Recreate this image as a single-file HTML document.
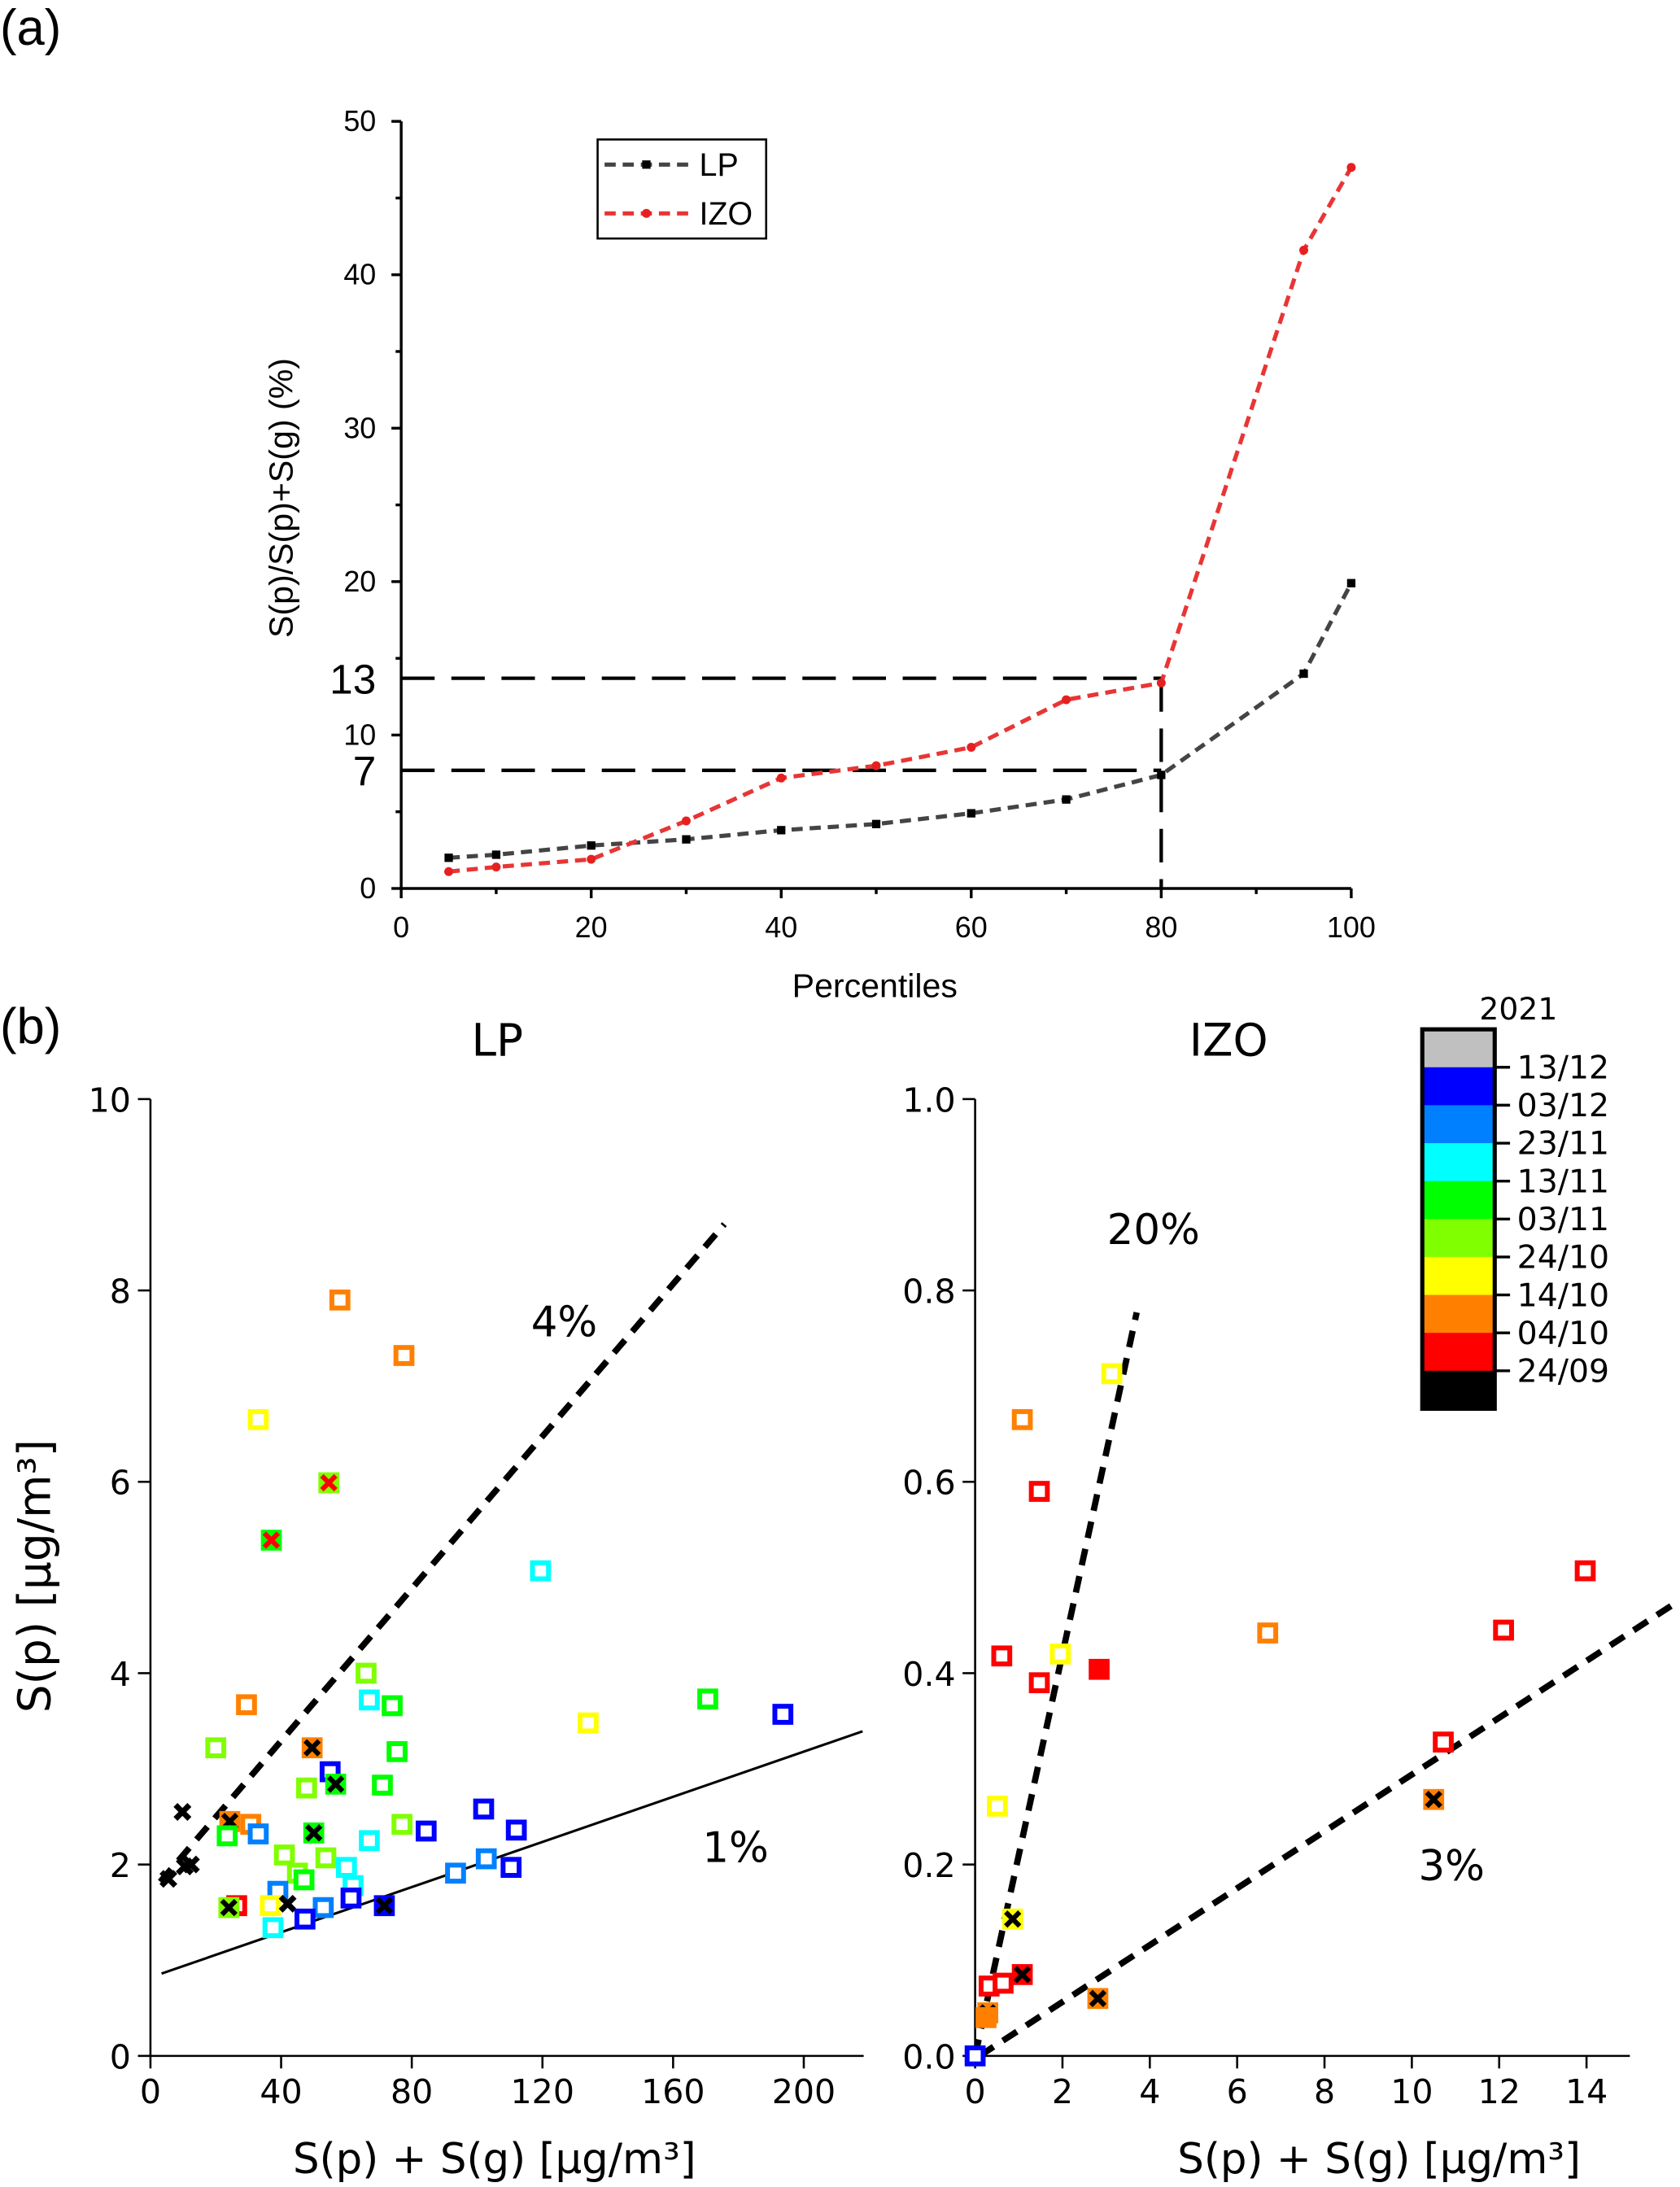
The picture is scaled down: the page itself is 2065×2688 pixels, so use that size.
<!DOCTYPE html>
<html><head><meta charset="utf-8"><style>
html,body{margin:0;padding:0;background:#fff}
svg{display:block}
text{font-family:"Liberation Sans","DejaVu Sans",sans-serif;fill:#000}
.dj{font-family:"DejaVu Sans","Liberation Sans",sans-serif}
</style></head><body>
<svg id="fig" width="2065" height="2688" viewBox="0 0 1206 1568" preserveAspectRatio="none" xmlns="http://www.w3.org/2000/svg"></svg>
<script>
// ---- Panel (a) data ----
const pctCategories = [5,10,20,30,40,50,60,70,80,95,100];
const lpPct = [2.0,2.2,2.8,3.2,3.8,4.2,4.9,5.8,7.4,14.0,19.9];
const izoPct = [1.1,1.4,1.9,4.4,7.2,8.0,9.2,12.3,13.4,41.6,47.0];
const aYTicks = [0,10,20,30,40,50];
const aXTicks = [0,20,40,60,80,100];
const refValues = [13.7,7.7];
const refLabels = ['13','7'];
// ---- Panel (b) LP data ----
const lpX = [58,77.6,33,54.6,37,119.4,66,67,74,170.6,193.6,134,29.4,20,49.5,75.5,55,56.7,47.8,71,9.8,24.3,30.7,23.5,33,77,84.4,102,112,50,67,41,53.7,60,102.8,110.4,93.4,45,47,12.4,10.5,5.5,62,39,61.4,26.4,24,36.7,42,52.9,71.6,37.5,47.3];
const lpY = [7.9,7.32,6.65,5.99,5.39,5.07,4.0,3.72,3.66,3.73,3.57,3.48,3.67,3.22,3.22,3.18,2.97,2.84,2.80,2.83,2.55,2.45,2.42,2.3,2.32,2.42,2.35,2.58,2.36,2.33,2.25,2.1,2.07,1.97,2.06,1.97,1.91,1.91,1.84,2.0,1.98,1.85,1.78,1.72,1.65,1.57,1.55,1.57,1.59,1.55,1.57,1.34,1.43];
const lpColor = ['o','o','y','l','g','c','l','c','g','g','b','y','o','l','o','g','b','g','l','g','k','o','o','g','s','l','b','b','b','g','c','l','l','c','s','b','s','l','g','k','k','k','c','s','b','r','l','y','k','s','b','c','b'];
const lpMark = ['o','o','o','r','r','o','o','o','o','o','o','o','o','o','x','o','o','x','o','o','k','x','o','o','o','o','o','o','o','x','o','o','o','o','o','o','o','o','o','k','k','k','o','o','o','o','x','o','k','o','x','o','o'];
const lpXTicks = [0,40,80,120,160,200];
const lpYTicks = [0,2,4,6,8,10];
// ---- Panel (b) IZO data ----
const izX = [3.13,1.08,1.47,0.61,1.95,1.47,2.84,6.7,12.1,13.97,10.72,10.5,0.51,0.86,1.08,0.32,0.64,2.81,0.29,0.25,0.0];
const izY = [0.713,0.665,0.590,0.418,0.42,0.39,0.404,0.442,0.445,0.507,0.328,0.268,0.261,0.143,0.085,0.073,0.076,0.06,0.045,0.04,0.0];
const izColor = ['y','o','r','r','y','r','r','o','r','r','r','o','y','y','r','r','r','o','o','o','b'];
const izMark = ['o','o','o','o','o','o','f','o','o','o','o','x','o','x','x','o','o','x','x','f','o'];
const izXTicks = [0,2,4,6,8,10,12,14];
const izYTicks = [0,0.2,0.4,0.6,0.8,1.0];
const cbLabels = ['13/12','03/12','23/11','13/11','03/11','24/10','14/10','04/10','24/09'];
const cbColors = ['#c0c0c0','#0000ff','#0080ff','#00ffff','#00ff00','#80ff00','#ffff00','#ff8000','#ff0000','#000000'];

const PAL = {k:'#000000',r:'#ff0000',o:'#ff8000',y:'#ffff00',l:'#80ff00',g:'#00ff00',c:'#00ffff',s:'#0080ff',b:'#0000ff'};
const svg = document.getElementById('fig');
const NS = 'http://www.w3.org/2000/svg';
function el(tag, attrs, parent, txt){
  const e = document.createElementNS(NS, tag);
  for (const k in attrs) e.setAttribute(k, attrs[k]);
  if (txt !== undefined) e.textContent = txt;
  (parent||svg).appendChild(e);
  return e;
}
function txt(x,y,s,size,anchor,parent,cls){
  const t = el('text',{x:x,y:y,'font-size':size,'text-anchor':anchor||'middle'},parent,s);
  if(cls) t.setAttribute('class',cls);
  return t;
}

// ======== Panel (a) ========
const ax = v => 288 + v*(970-288)/100;
const ay = v => 637 - v*11;
const gA = el('g',{});


let t = txt(0,32,'(a)',36,'start',gA);
 
el('line',{x1:288,y1:87,x2:288,y2:637,stroke:'#000','stroke-width':2},gA);
el('line',{x1:288,y1:637,x2:970,y2:637,stroke:'#000','stroke-width':2},gA);
for(let v=0; v<=50; v+=5){
  const maj = v%10===0;
  el('line',{x1:288-(maj?7:4),y1:ay(v),x2:288,y2:ay(v),stroke:'#000','stroke-width':2},gA);
}
aYTicks.forEach(v=>{ const e=txt(270,ay(v)+7,String(v),21,'end',gA);  });
for(let v=0; v<=100; v+=10){
  const maj = v%20===0;
  el('line',{x1:ax(v),y1:637,x2:ax(v),y2:637+(maj?7:4),stroke:'#000','stroke-width':2},gA);
}
aXTicks.forEach(v=>{ const e=txt(ax(v),672,String(v),21,'middle',gA);  });
t = txt(628,715,'Percentiles',24,'middle',gA);  
t = el('text',{x:0,y:0,'font-size':24,'text-anchor':'middle',transform:'translate(210,357) rotate(-90)'},gA,'S(p)/S(p)+S(g) (%)');
 
// reference dashed lines
refValues.forEach((v,i)=>{
  const l = el('line',{x1:288,y1:ay(v),x2:ax(80),y2:ay(v),stroke:'#000','stroke-width':2.5,'stroke-dasharray':'24,12'},gA);
  
  const e = txt(270,ay(v)+11,refLabels[i],30,'end',gA);
   
});
el('line',{x1:ax(80),y1:ay(refValues[0]),x2:ax(80),y2:637,stroke:'#000','stroke-width':2.5,'stroke-dasharray':'24,12'},gA);
function series(vals,color,name,marker){
  const pts = pctCategories.map((c,i)=>ax(c)+','+ay(vals[i])).join(' ');
  const pl = el('polyline',{points:pts,fill:'none',stroke:color,'stroke-width':3,'stroke-dasharray':'8,5'},gA);
  
  
  pctCategories.forEach((c,i)=>{
    let m;
    if(marker==='sq') m = el('rect',{x:ax(c)-3,y:ay(vals[i])-3,width:6,height:6,fill:'#000'},gA);
    else m = el('circle',{cx:ax(c),cy:ay(vals[i]),r:3.2,fill:'#e62020'},gA);
    
    
  });
}
series(lpPct,'#444444','lp','sq');
series(izoPct,'#e83535','izo','ci');
// legend
const lg = el('g',{},gA);
 
el('rect',{x:429,y:100,width:121,height:71,fill:'#fff',stroke:'#000','stroke-width':1.5},lg);
el('line',{x1:434,y1:118,x2:494,y2:118,stroke:'#444','stroke-width':3,'stroke-dasharray':'8,5'},lg);
el('rect',{x:461,y:115,width:6,height:6,fill:'#000'},lg);
t = txt(502,126,'LP',23,'start',lg);  
el('line',{x1:434,y1:153,x2:494,y2:153,stroke:'#e83535','stroke-width':3,'stroke-dasharray':'8,5'},lg);
el('circle',{cx:464,cy:153,r:3.2,fill:'#e62020'},lg);
t = txt(502,161,'IZO',23,'start',lg);  

// ======== Panel (b) ========
const gB = el('g',{});
 
t = txt(0,748,'(b)',36,'start',gB);  

function drawMarker(g,x,y,col,mk,name){
  const s = 15;
  let m;
  if(mk==='k'){
    m = el('path',{d:`M${x-5} ${y-5}L${x+5} ${y+5}M${x+5} ${y-5}L${x-5} ${y+5}`,stroke:'#000','stroke-width':4},g);
  } else {
    const filled = mk!=='o';
    m = el('rect',{x:x-s/2+1.75,y:y-s/2+1.75,width:s-3.5,height:s-3.5,fill:filled?PAL[col]:'#fff',stroke:PAL[col],'stroke-width':3.5},g);
    if(mk==='x'||mk==='r'){
      el('path',{d:`M${x-5} ${y-5}L${x+5} ${y+5}M${x+5} ${y-5}L${x-5} ${y+5}`,stroke:mk==='r'?'#ff0000':'#000','stroke-width':3.5},g);
    }
  }
  
  
}

function axesB(g,x0,x1end,xmap,ymap,xt,yt,yfmt,prefix){
  el('line',{x1:x0,y1:788,x2:x0,y2:1474,stroke:'#000','stroke-width':1.5},g);
  el('line',{x1:x0,y1:1474,x2:x1end,y2:1474,stroke:'#000','stroke-width':1.5},g);
  yt.forEach(v=>{
    el('line',{x1:x0-9,y1:ymap(v),x2:x0,y2:ymap(v),stroke:'#000','stroke-width':1.5},g);
    const e = txt(x0-14,ymap(v)+9,yfmt(v),24,'end',g,'dj');  
  });
  xt.forEach(v=>{
    el('line',{x1:xmap(v),y1:1474,x2:xmap(v),y2:1483,stroke:'#000','stroke-width':1.5},g);
    const e = txt(xmap(v),1508,String(v),24,'middle',g,'dj');  
  });
}

// LP subplot
const lx = v => 108 + v*2.345;
const ly = v => 1474 - v*68.6;
const gL = el('g',{},gB);
 
axesB(gL,108,620,lx,ly,lpXTicks,lpYTicks,v=>String(v),'lp');
t = txt(357,757,'LP',32,'middle',gL,'dj');  
t = el('text',{x:0,y:0,'font-size':32,'text-anchor':'middle',class:'dj',transform:'translate(36,1130) rotate(-90)'},gL,'S(p) [μg/m³]');
 
t = txt(355,1558,'S(p) + S(g) [μg/m³]',30,'middle',gL,'dj');  
el('line',{x1:lx(3),y1:ly(0.0398*3+1.7),x2:lx(175.7),y2:ly(0.0398*175.7+1.7),stroke:'#000','stroke-width':4.5,'stroke-dasharray':'12,8'},gL);
el('line',{x1:lx(3.4),y1:ly(0.0118*3.4+0.82),x2:lx(218),y2:ly(0.0118*218+0.82),stroke:'#000','stroke-width':1.8},gL);
t = txt(405,958,'4%',30,'middle',gL,'dj');  
t = txt(528,1335,'1%',30,'middle',gL,'dj');  
lpX.forEach((v,i)=>drawMarker(gL,lx(v),ly(lpY[i]),lpColor[i],lpMark[i],'lp-point'));

// IZO subplot
const ix = v => 700 + v*31.35;
const iy = v => 1474 - v*686;
const gI = el('g',{},gB);
 
axesB(gI,700,1170,ix,iy,izXTicks,izYTicks,v=>v.toFixed(1),'izo');
t = txt(882,757,'IZO',32,'middle',gI,'dj');  
t = txt(990,1558,'S(p) + S(g) [μg/m³]',30,'middle',gI,'dj');  
el('line',{x1:ix(0),y1:iy(0),x2:ix(3.7),y2:iy(0.21*3.7),stroke:'#000','stroke-width':4.5,'stroke-dasharray':'12,8'},gI);
el('line',{x1:ix(0.1),y1:iy(0),x2:ix(16.1),y2:iy(0.0297*16),stroke:'#000','stroke-width':4.5,'stroke-dasharray':'12,8'},gI);
t = txt(828,892,'20%',30,'middle',gI,'dj');  
t = txt(1042,1348,'3%',30,'middle',gI,'dj');  
izX.forEach((v,i)=>drawMarker(gI,ix(v),iy(izY[i]),izColor[i],izMark[i],'izo-point'));

// Colorbar
const gC = el('g',{},gB);
 
const segH = 27.2;
cbColors.forEach((c,i)=>{
  const r = el('rect',{x:1021,y:738+i*segH,width:52,height:segH+0.5,fill:c},gC);
   
});
el('rect',{x:1021,y:738,width:52,height:272,fill:'none',stroke:'#000','stroke-width':3},gC);
cbLabels.forEach((s,i)=>{
  const y = 738+(i+1)*segH;
  el('line',{x1:1073,y1:y,x2:1084,y2:y,stroke:'#000','stroke-width':2},gC);
  const e = txt(1089,y+8,s,23,'start',gC,'dj');  
});
t = txt(1090,731,'2021',22,'middle',gC,'dj');  
</script>
</body></html>
